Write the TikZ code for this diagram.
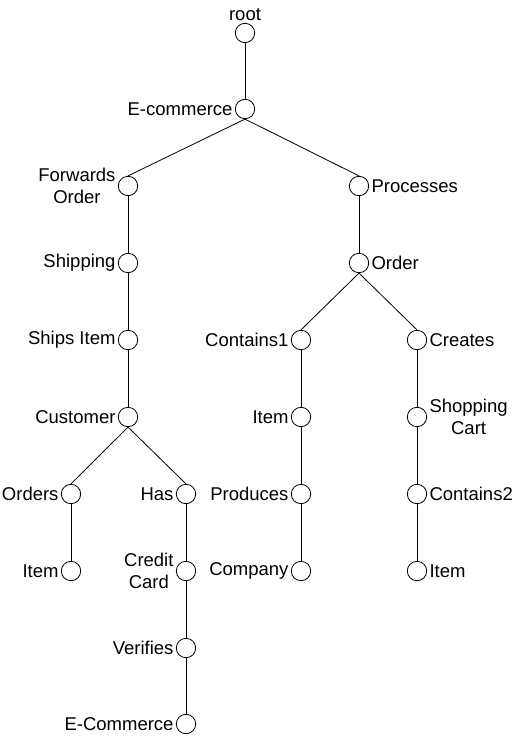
\documentclass[tikz,border=0pt]{standalone}
\usepackage{fontspec}
\setmainfont{Liberation Sans}
\tikzset{
  vertex/.style={circle,draw,minimum size=19.4pt,inner sep=0pt,line width=0.8pt},
  every label/.style={font=\fontsize{18.5}{22}\selectfont,inner sep=1pt,align=center},
  label distance=1pt
}
\begin{document}
\begin{tikzpicture}[x=1pt,y=-1pt,line width=0.8pt]
      \useasboundingbox (0,0) rectangle (513,736);
      \draw
        (245,33) node[vertex,label=above:root] (root){}
        (245,109) node[vertex,label=left:E-commerce] (ecom){}
        (128,186) node[vertex,label=left:Forwards\\Order] (fwd){}
        (359,186) node[vertex,label=right:Processes] (proc){}
        (128,263) node[vertex,label=left:Shipping] (ship){}
        (359,263) node[vertex,label=right:Order] (order){}
        (128,340) node[vertex,label=left:Ships Item] (shipitem){}
        (301,340) node[vertex,label=left:Contains1] (cont1){}
        (417,340) node[vertex,label=right:Creates] (creates){}
        (128,417) node[vertex,label=left:Customer] (cust){}
        (301,417) node[vertex,label=left:Item] (item1){}
        (417,417) node[vertex,label=right:Shopping\\Cart] (cart){}
        (71,494) node[vertex,label=left:Orders] (orders){}
        (186,494) node[vertex,label=left:Has] (has){}
        (301,494) node[vertex,label=left:Produces] (prod){}
        (417,494) node[vertex,label=right:Contains2] (cont2){}
        (71,571) node[vertex,label=left:Item] (item0){}
        (186,571) node[vertex,label=left:Credit\\Card] (card){}
        (301,571) node[vertex,label=left:Company] (comp){}
        (417,571) node[vertex,label=right:Item] (item2){}
        (186,648) node[vertex,label=left:Verifies] (ver){}
        (186,724) node[vertex,label=left:E-Commerce] (ecom2){};
      \begin{scope}[-]
        \draw (root.south) to (ecom.north);
        \draw (ecom.south) to (fwd.north);
        \draw (ecom.south) to (proc.north);
        \draw (fwd.south) to (ship.north);
        \draw (ship.south) to (shipitem.north);
        \draw (shipitem.south) to (cust.north);
        \draw (cust.south) to (orders.north);
        \draw (cust.south) to (has.north);
        \draw (orders.south) to (item0.north);
        \draw (has.south) to (card.north);
        \draw (card.south) to (ver.north);
        \draw (ver.south) to (ecom2.north);
        \draw (proc.south) to (order.north);
        \draw (order.south) to (cont1.north);
        \draw (order.south) to (creates.north);
        \draw (cont1.south) to (item1.north);
        \draw (item1.south) to (prod.north);
        \draw (prod.south) to (comp.north);
        \draw (creates.south) to (cart.north);
        \draw (cart.south) to (cont2.north);
        \draw (cont2.south) to (item2.north);
      \end{scope}
    \end{tikzpicture}
\end{document}
